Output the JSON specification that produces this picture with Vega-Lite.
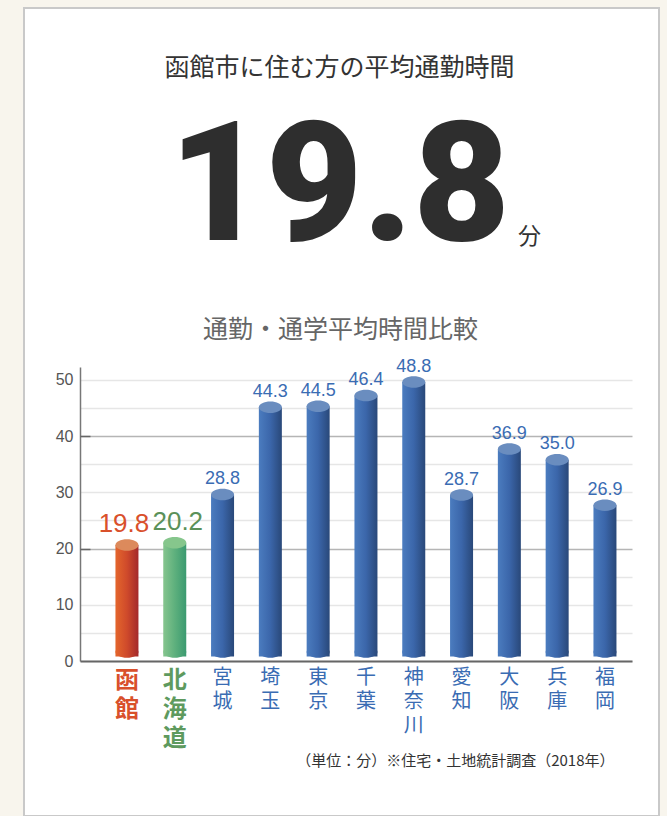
{
  "$schema": "https://vega.github.io/schema/vega-lite/v6.json",
  "width": 635,
  "height": 808,
  "autosize": {"type": "none"},
  "padding": {"left": 24, "top": 8, "right": 8, "bottom": 0},
  "background": "#f8f5ed",
  "title": {
    "text": "函館市に住む方の平均通勤時間",
    "subtitle": "19.8",
    "orient": "top",
    "anchor": "middle",
    "frame": "group",
    "offset": -265,
    "dx": -2,
    "font": "Noto Sans CJK JP",
    "fontSize": 25,
    "fontWeight": "normal",
    "color": "#333333",
    "subtitleFont": "Roboto",
    "subtitleFontSize": 167,
    "subtitleFontWeight": 900,
    "subtitleColor": "#2e2e2e",
    "subtitlePadding": 27
  },
  "data": {
    "values": [
      {"region": "函館", "value": 19.8, "label": ["函", "館"]},
      {"region": "北海道", "value": 20.2, "label": ["北", "海", "道"]},
      {"region": "宮城", "value": 28.8, "label": ["宮", "城"]},
      {"region": "埼玉", "value": 44.3, "label": ["埼", "玉"]},
      {"region": "東京", "value": 44.5, "label": ["東", "京"]},
      {"region": "千葉", "value": 46.4, "label": ["千", "葉"]},
      {"region": "神奈川", "value": 48.8, "label": ["神", "奈", "川"]},
      {"region": "愛知", "value": 28.7, "label": ["愛", "知"]},
      {"region": "大阪", "value": 36.9, "label": ["大", "阪"]},
      {"region": "兵庫", "value": 35.0, "label": ["兵", "庫"]},
      {"region": "福岡", "value": 26.9, "label": ["福", "岡"]}
    ]
  },
  "encoding": {
    "x": {
      "field": "region",
      "type": "nominal",
      "sort": null,
      "scale": {"range": [56, 608], "paddingInner": 0, "paddingOuter": 0.274, "align": 0.88},
      "axis": {
        "orient": "bottom",
        "offset": -155,
        "labels": false,
        "ticks": false,
        "grid": false,
        "domain": true,
        "domainColor": "#666666",
        "domainWidth": 2,
        "zindex": 1,
        "title": "（単位：分）※住宅・土地統計調査（2018年）",
        "titleX": 590,
        "titleY": 99,
        "titleAlign": "right",
        "titleBaseline": "middle",
        "titleFont": "Noto Sans CJK JP",
        "titleFontSize": 15,
        "titleFontWeight": "normal",
        "titleColor": "#333333"
      }
    }
  },
  "layer": [
    {
      "mark": {"type": "bar", "width": 23, "yOffset": -4.6, "y2Offset": -9, "strokeWidth": 0},
      "encoding": {
        "y": {
          "field": "value",
          "type": "quantitative",
          "scale": {"domain": [0, 52.3], "range": [653, 359], "nice": false},
          "axis": {
            "orient": "left",
            "offset": -56,
            "values": [0, 5, 10, 15, 20, 25, 30, 35, 40, 45, 50],
            "labelExpr": "datum.value % 10 === 0 ? datum.label : ''",
            "ticks": false,
            "domain": true,
            "domainColor": "#777777",
            "domainWidth": 1.5,
            "labelFont": "Liberation Sans",
            "labelFontSize": 16,
            "labelColor": "#555555",
            "labelPadding": 7,
            "grid": true,
            "gridColor": {"condition": {"test": "datum.value === 20 || datum.value === 40", "value": "#b5b5b5"}, "value": "#e6e6e6"},
            "gridWidth": 1.5,
            "zindex": 0,
            "title": "通勤・通学平均時間比較",
            "titleAngle": 0,
            "titleX": 260,
            "titleY": 321,
            "titleAlign": "center",
            "titleBaseline": "middle",
            "titleFont": "Noto Sans CJK JP",
            "titleFontSize": 25,
            "titleFontWeight": "normal",
            "titleColor": "#666666"
          }
        },
        "fill": {
          "condition": [
            {"test": "datum.region === '函館'", "value": {"gradient": "linear", "x1": 0, "y1": 0, "x2": 1, "y2": 0, "stops": [{"offset": 0, "color": "#e4662c"}, {"offset": 0.5, "color": "#cf4a2b"}, {"offset": 1, "color": "#a3282b"}]}},
            {"test": "datum.region === '北海道'", "value": {"gradient": "linear", "x1": 0, "y1": 0, "x2": 1, "y2": 0, "stops": [{"offset": 0, "color": "#86c58e"}, {"offset": 0.5, "color": "#5eb07d"}, {"offset": 1, "color": "#3b9a70"}]}}
          ],
          "value": {"gradient": "linear", "x1": 0, "y1": 0, "x2": 1, "y2": 0, "stops": [{"offset": 0, "color": "#4b7cbf"}, {"offset": 0.5, "color": "#3b66aa"}, {"offset": 1, "color": "#294879"}]}
        }
      }
    },
    {
      "mark": {"type": "point", "shape": "M -1 0 C -1 -0.276 -0.552 -0.5 0 -0.5 C 0.552 -0.5 1 -0.276 1 0 C 1 0.276 0.552 0.5 0 0.5 C -0.552 0.5 -1 0.276 -1 0 Z", "size": 529, "filled": true, "opacity": 1, "strokeWidth": 0, "yOffset": -9},
      "encoding": {
        "y": {"datum": 0, "type": "quantitative", "axis": null},
        "fill": {
          "condition": [
            {"test": "datum.region === '函館'", "value": {"gradient": "linear", "x1": 0, "y1": 0, "x2": 1, "y2": 0, "stops": [{"offset": 0, "color": "#e4662c"}, {"offset": 0.5, "color": "#cf4a2b"}, {"offset": 1, "color": "#a3282b"}]}},
            {"test": "datum.region === '北海道'", "value": {"gradient": "linear", "x1": 0, "y1": 0, "x2": 1, "y2": 0, "stops": [{"offset": 0, "color": "#86c58e"}, {"offset": 0.5, "color": "#5eb07d"}, {"offset": 1, "color": "#3b9a70"}]}}
          ],
          "value": {"gradient": "linear", "x1": 0, "y1": 0, "x2": 1, "y2": 0, "stops": [{"offset": 0, "color": "#4b7cbf"}, {"offset": 0.5, "color": "#3b66aa"}, {"offset": 1, "color": "#294879"}]}
        }
      }
    },
    {
      "mark": {"type": "point", "shape": "M -1 0 C -1 -0.276 -0.552 -0.5 0 -0.5 C 0.552 -0.5 1 -0.276 1 0 C 1 0.276 0.552 0.5 0 0.5 C -0.552 0.5 -1 0.276 -1 0 Z", "size": 529, "filled": true, "opacity": 1, "strokeWidth": 0, "yOffset": -4.6},
      "encoding": {
        "y": {
          "field": "value",
          "type": "quantitative",
          "axis": {
            "orient": "right",
            "offset": -579,
            "values": [20, 40],
            "labels": false,
            "domain": false,
            "grid": false,
            "ticks": true,
            "tickSize": 10,
            "tickColor": "#666666",
            "tickWidth": 1.5,
            "zindex": 0,
            "title": "分",
            "titleAngle": 0,
            "titleX": 449,
            "titleY": 228,
            "titleAlign": "center",
            "titleBaseline": "middle",
            "titleFont": "Noto Sans CJK JP",
            "titleFontSize": 23,
            "titleFontWeight": "normal",
            "titleColor": "#333333"
          }
        },
        "fill": {
          "condition": [
            {"test": "datum.region === '函館'", "value": "#dc8a5c"},
            {"test": "datum.region === '北海道'", "value": "#86c68c"}
          ],
          "value": "#6a8dbf"
        }
      }
    },
    {
      "transform": [{"filter": {"field": "region", "equal": "函館"}}],
      "mark": {"type": "text", "font": "Liberation Sans", "fontSize": 26, "dy": -17.5, "dx": -3, "baseline": "alphabetic", "align": "center", "color": "#d9502b"},
      "encoding": {
        "y": {"field": "value", "type": "quantitative", "axis": null},
        "text": {"field": "value", "type": "quantitative", "format": ".1f"}
      }
    },
    {
      "transform": [{"filter": {"field": "region", "equal": "北海道"}}],
      "mark": {"type": "text", "font": "Liberation Sans", "fontSize": 26, "dy": -17.5, "dx": 3, "baseline": "alphabetic", "align": "center", "color": "#5b9159"},
      "encoding": {
        "y": {"field": "value", "type": "quantitative", "axis": null},
        "text": {"field": "value", "type": "quantitative", "format": ".1f"}
      }
    },
    {
      "transform": [{"filter": {"not": {"field": "region", "oneOf": ["函館", "北海道"]}}}],
      "mark": {"type": "text", "font": "Liberation Sans", "fontSize": 18, "dy": -15, "baseline": "alphabetic", "align": "center", "color": "#3a6cb3"},
      "encoding": {
        "y": {"field": "value", "type": "quantitative", "axis": null},
        "text": {"field": "value", "type": "quantitative", "format": ".1f"}
      }
    },
    {
      "transform": [{"filter": {"field": "region", "oneOf": ["函館", "北海道"]}}],
      "mark": {"type": "text", "font": "Noto Sans CJK JP", "fontWeight": "bold", "fontSize": 24, "lineHeight": 28.8, "dy": 8, "baseline": "top", "align": "center"},
      "encoding": {
        "y": {"datum": 0, "type": "quantitative", "axis": null},
        "text": {"field": "label", "type": "nominal"},
        "color": {"condition": {"test": "datum.region === '函館'", "value": "#d9502b"}, "value": "#5e9a5e"}
      }
    },
    {
      "transform": [{"filter": {"not": {"field": "region", "oneOf": ["函館", "北海道"]}}}],
      "mark": {"type": "text", "font": "Noto Sans CJK JP", "fontSize": 20, "lineHeight": 24, "dy": 7, "baseline": "top", "align": "center", "color": "#3a6cb3"},
      "encoding": {
        "y": {"datum": 0, "type": "quantitative", "axis": null},
        "text": {"field": "label", "type": "nominal"}
      }
    }
  ],
  "resolve": {"axis": {"y": "independent"}},
  "config": {"view": {"fill": "white", "stroke": "#c9c9c9", "strokeWidth": 2}}
}
